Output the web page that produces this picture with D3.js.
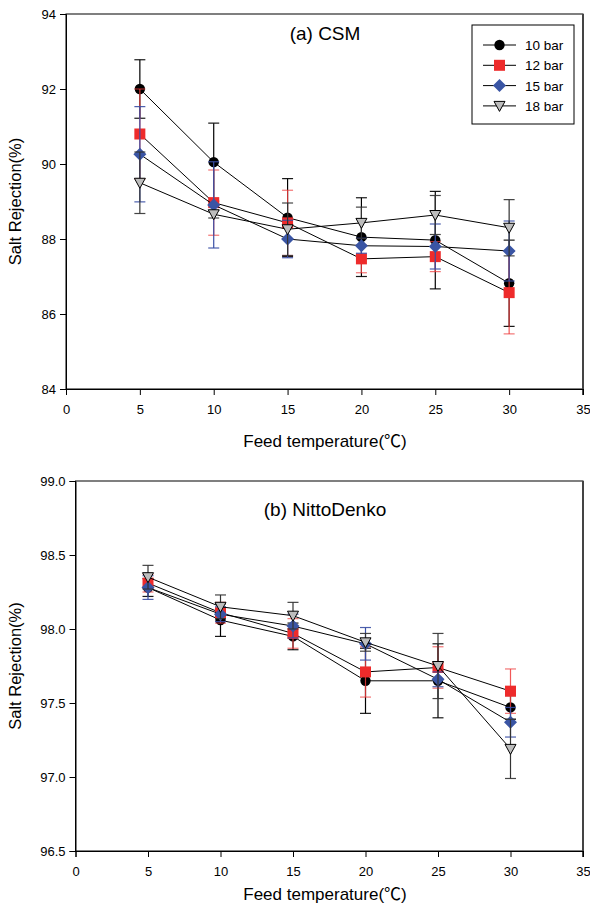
<!DOCTYPE html>
<html>
<head>
<meta charset="utf-8">
<script src="https://cdn.jsdelivr.net/npm/d3@7"></script>
<style>
  body { margin: 0; background: #fff; }
  text { font-family: "Liberation Sans", Arial, sans-serif; fill: #000; }
  .axis path, .axis line { stroke: #000; }
  .axis text { font-size: 13px; }
  .cjk { font-family: "Noto Sans CJK JP", "Noto Sans CJK SC", sans-serif; }
</style>
</head>
<body>
<div id="chart"></div>
<script>
// feed temperatures (x values)
var temps = [5, 10, 15, 20, 25, 30];
var seriesNames = ["10 bar", "12 bar", "15 bar", "18 bar"];

// (a) CSM - salt rejection and error
var csm10 = [92.0, 90.05, 88.57, 88.05, 87.97, 86.82];
var csm10Err = [0.78, 1.04, 1.04, 1.05, 1.3, 1.15];
var csm12 = [90.8, 88.97, 88.43, 87.47, 87.53, 86.57];
var csm12Err = [1.2, 0.87, 0.87, 0.37, 0.4, 1.1];
var csm15 = [90.26, 88.91, 88.0, 87.82, 87.8, 87.68];
var csm15Err = [1.27, 1.15, 0.5, 0.2, 0.6, 0.8];
var csm18 = [89.5, 88.66, 88.26, 88.43, 88.64, 88.3];
var csm18Err = [0.82, 0.1, 0.7, 0.42, 0.52, 0.75];

// (b) NittoDenko - salt rejection and error
var nd10 = [98.28, 98.06, 97.95, 97.65, 97.65, 97.47];
var nd10Err = [0.06, 0.11, 0.09, 0.22, 0.25, 0.08];
var nd12 = [98.31, 98.11, 97.97, 97.71, 97.74, 97.58];
var nd12Err = [0.06, 0.07, 0.1, 0.17, 0.14, 0.15];
var nd15 = [98.28, 98.10, 98.02, 97.90, 97.66, 97.37];
var nd15Err = [0.08, 0.05, 0.08, 0.11, 0.05, 0.1];
var nd18 = [98.35, 98.15, 98.09, 97.91, 97.75, 97.19];
var nd18Err = [0.08, 0.08, 0.09, 0.06, 0.22, 0.2];

// tick values
var xTicks = [0, 5, 10, 15, 20, 25, 30, 35];
var yTicksA = [84, 86, 88, 90, 92, 94];
var yTicksB = [96.5, 97.0, 97.5, 98.0, 98.5, 99.0];

// marker styles per series
var markerFill = ["#000000", "#ee2b2b", "#3a55a4", "#bdbdbd"];
var errColor = ["#000000", "#ef3b3b", "#3a4fa5", "#333333"];

var width = 590, height = 912;

var svg = d3.select("#chart").append("svg")
    .attr("width", width)
    .attr("height", height);

function drawMarker(g, i, cx, cy) {
    if (i == 0) {
        g.append("circle").attr("cx", cx).attr("cy", cy).attr("r", 5.2)
            .attr("fill", markerFill[0]);
    } else if (i == 1) {
        g.append("rect").attr("x", cx - 5.5).attr("y", cy - 5.5)
            .attr("width", 11).attr("height", 11).attr("fill", markerFill[1]);
    } else if (i == 2) {
        g.append("path")
            .attr("d", "M" + cx + "," + (cy - 6.5) + "L" + (cx + 6.5) + "," + cy +
                "L" + cx + "," + (cy + 6.5) + "L" + (cx - 6.5) + "," + cy + "Z")
            .attr("fill", markerFill[2]);
    } else {
        g.append("path")
            .attr("d", "M" + (cx - 5.5) + "," + (cy - 4.5) + "L" + (cx + 5.5) + "," + (cy - 4.5) +
                "L" + cx + "," + (cy + 5.5) + "Z")
            .attr("fill", markerFill[3])
            .attr("stroke", "#000")
            .attr("stroke-width", 1);
    }
}

function drawPanel(opts) {
    var x = d3.scaleLinear().domain([0, 35]).range([opts.left, opts.right]);
    var y = d3.scaleLinear().domain(opts.yDomain).range([opts.bottom, opts.top]);
    var g = svg.append("g");

    // frame
    g.append("rect")
        .attr("x", opts.left).attr("y", opts.top)
        .attr("width", opts.right - opts.left)
        .attr("height", opts.bottom - opts.top)
        .attr("fill", "none").attr("stroke", "#000").attr("stroke-width", 1);
    g.append("line")
        .attr("x1", opts.right).attr("x2", opts.right)
        .attr("y1", opts.top).attr("y2", opts.bottom + 6)
        .attr("stroke", "#444").attr("stroke-width", 2);

    // axes
    g.append("g").attr("class", "axis")
        .attr("transform", "translate(0," + opts.bottom + ")")
        .call(d3.axisBottom(x).tickValues(xTicks).tickSize(6).tickPadding(10).tickFormat(d3.format("d")));
    g.append("g").attr("class", "axis")
        .attr("transform", "translate(" + opts.left + ",0)")
        .call(d3.axisLeft(y).tickValues(opts.yTicks).tickSize(6).tickPadding(4).tickFormat(opts.yFormat));

    // series
    opts.series.forEach(function(vals, i) {
        var errs = opts.errors[i];
        var sg = g.append("g");
        // error bars
        temps.forEach(function(t, k) {
            var cx = x(t), y1 = y(vals[k] + errs[k]), y2 = y(vals[k] - errs[k]);
            sg.append("line").attr("x1", cx).attr("x2", cx).attr("y1", y1).attr("y2", y2)
                .attr("stroke", errColor[i]).attr("stroke-width", 1.2).attr("opacity", i == 1 ? 0.85 : 1);
            [y1, y2].forEach(function(yy) {
                sg.append("line").attr("x1", cx - 5.5).attr("x2", cx + 5.5).attr("y1", yy).attr("y2", yy)
                    .attr("stroke", errColor[i]).attr("stroke-width", 1.2).attr("opacity", i == 1 ? 0.7 : 0.9);
            });
        });
        // connecting line
        var line = d3.line().x(function(d, k) { return x(temps[k]); }).y(function(d) { return y(d); });
        sg.append("path").datum(vals).attr("d", line)
            .attr("fill", "none").attr("stroke", "#000").attr("stroke-width", 1);
        vals.forEach(function(v, k) { drawMarker(sg, i, x(temps[k]), y(v)); });
    });

    // title
    g.append("text").attr("x", 325).attr("y", opts.titleY)
        .attr("text-anchor", "middle").style("font-size", "19px").text(opts.title);

    // axis labels
    var xl = g.append("text").attr("x", 325).attr("y", opts.xLabelY)
        .attr("text-anchor", "middle").style("font-size", "17px");
    xl.append("tspan").text("Feed temperature(");
    xl.append("tspan").attr("class", "cjk").text("℃");
    xl.append("tspan").text(")");
    g.append("text")
        .attr("transform", "translate(21," + ((opts.top + opts.bottom) / 2) + ")rotate(-90)")
        .attr("text-anchor", "middle").style("font-size", "16.5px").text("Salt Rejection(%)");
}

drawPanel({
    left: 66, right: 583, top: 14, bottom: 389,
    yDomain: [84, 94], yTicks: yTicksA, yFormat: d3.format("d"),
    series: [csm10, csm12, csm15, csm18],
    errors: [csm10Err, csm12Err, csm15Err, csm18Err],
    title: "(a) CSM", titleY: 40, xLabelY: 447
});

drawPanel({
    left: 75.5, right: 583, top: 481, bottom: 851,
    yDomain: [96.5, 99.0], yTicks: yTicksB, yFormat: d3.format(".1f"),
    series: [nd10, nd12, nd15, nd18],
    errors: [nd10Err, nd12Err, nd15Err, nd18Err],
    title: "(b) NittoDenko", titleY: 516, xLabelY: 900
});

// legend for panel (a)
var legend = svg.append("g");
legend.append("rect").attr("x", 472).attr("y", 25).attr("width", 102).attr("height", 99)
    .attr("fill", "#fff").attr("stroke", "#000").attr("stroke-width", 1);
seriesNames.forEach(function(name, i) {
    var ly = 45 + i * 20.3;
    legend.append("line").attr("x1", 483).attr("x2", 516).attr("y1", ly).attr("y2", ly)
        .attr("stroke", "#000").attr("stroke-width", 1);
    drawMarker(legend, i, 499.5, ly);
    legend.append("text").attr("x", 525).attr("y", ly + 5).style("font-size", "13.5px").text(name);
});
</script>
</body>
</html>
